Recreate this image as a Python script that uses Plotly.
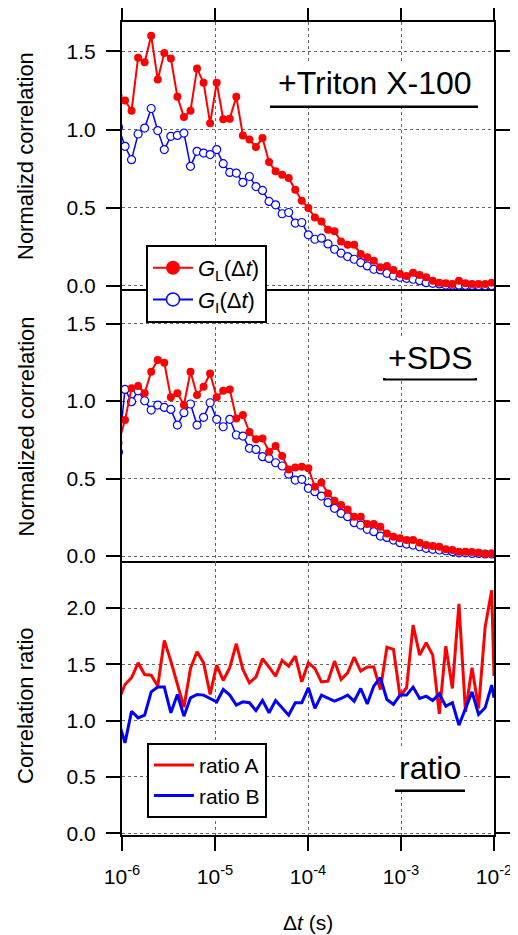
import numpy as np
import plotly.graph_objects as go

# ---------------- data ----------------
# lag-time grid (s); the first point lies just left of 1e-6 and is clipped by the axis
lag_s = np.logspace(-6.038, -2.025, 58)
ratio_lag_s = np.append(lag_s, 1e-2)

# +Triton X-100
triton_GL = [1.216, 1.186, 1.12, 1.46, 1.43, 1.60, 1.32, 1.49, 1.455, 1.21, 1.08,
             1.12, 1.39, 1.30, 1.04, 1.30, 1.066, 1.07, 1.21, 0.963, 0.936,
             0.889, 0.947, 0.793, 0.733, 0.711, 0.69, 0.615, 0.545, 0.498, 0.438,
             0.412, 0.359, 0.35, 0.284, 0.263, 0.263, 0.205, 0.184, 0.162, 0.12,
             0.128, 0.103, 0.077, 0.064, 0.085, 0.07, 0.056, 0.034, 0.021, 0.017,
             0.013, 0.034, 0.017, 0.013, 0.013, 0.013, 0.021]
triton_GI = [1.015, 0.893, 0.808, 0.972, 1.01, 1.135, 0.994, 0.872, 0.957, 0.963, 0.978,
             0.765, 0.861, 0.85, 0.84, 0.872, 0.782, 0.726, 0.722, 0.662, 0.70,
             0.636, 0.611, 0.541, 0.519, 0.462, 0.47, 0.402, 0.406, 0.327, 0.299,
             0.306, 0.269, 0.235, 0.21, 0.188, 0.171, 0.15, 0.128, 0.107, 0.103,
             0.081, 0.064, 0.056, 0.049, 0.043, 0.034, 0.021, 0.017, 0.013, 0.006,
             0.006, 0.005, 0.004, 0.004, 0.003, 0.003, 0.003]

# +SDS
sds_GL = [0.73, 0.877, 1.082, 1.097, 1.05, 1.189, 1.265, 1.247, 1.024, 1.05, 0.974,
          1.189, 1.039, 1.092, 1.178, 1.024, 1.066, 1.075, 0.888, 0.91, 0.80,
          0.753, 0.759, 0.673, 0.71, 0.645, 0.559, 0.572, 0.576, 0.566, 0.447,
          0.475, 0.404, 0.357, 0.329, 0.301, 0.254, 0.254, 0.206, 0.206, 0.189,
          0.146, 0.125, 0.114, 0.103, 0.103, 0.086, 0.071, 0.064, 0.06, 0.043,
          0.039, 0.028, 0.028, 0.026, 0.021, 0.013, 0.017]
sds_GI = [0.67, 1.075, 0.996, 1.066, 1.002, 0.942, 0.974, 0.959, 0.946, 0.845, 0.925,
          0.981, 0.845, 0.895, 0.989, 0.882, 0.834, 0.882, 0.781, 0.774, 0.695,
          0.688, 0.641, 0.63, 0.602, 0.581, 0.529, 0.49, 0.495, 0.437, 0.415,
          0.387, 0.344, 0.308, 0.275, 0.254, 0.215, 0.2, 0.172, 0.157, 0.129,
          0.12, 0.103, 0.086, 0.077, 0.071, 0.06, 0.05, 0.043, 0.039, 0.034,
          0.028, 0.021, 0.021, 0.017, 0.017, 0.013, 0.013]

# correlation ratios
ratio_A = [1.18, 1.321, 1.381, 1.514, 1.41, 1.404, 1.307, 1.713, 1.529, 1.321,
           1.12, 1.464, 1.612, 1.514, 1.233, 1.493, 1.357, 1.47, 1.683, 1.455,
           1.336, 1.387, 1.55, 1.476, 1.396, 1.535, 1.484, 1.573, 1.345, 1.514,
           1.464, 1.345, 1.351, 1.529, 1.366, 1.425, 1.564, 1.44, 1.476, 1.476,
           1.277, 1.653, 1.633, 1.218, 1.292, 1.849, 1.582, 1.692, 1.582, 1.06,
           1.662, 1.286, 2.038, 1.08, 1.47, 1.11, 1.831, 2.157, 1.396]
ratio_B = [0.996, 0.803, 1.084, 1.025, 1.049, 1.256, 1.298, 1.298, 1.07, 1.233,
           1.04, 1.203, 1.233, 1.227, 1.197, 1.167, 1.277, 1.227, 1.138, 1.167,
           1.159, 1.09, 1.179, 1.07, 1.179, 1.114, 1.049, 1.159, 1.159, 1.292,
           1.11, 1.227, 1.197, 1.173, 1.197, 1.227, 1.173, 1.286, 1.149, 1.307,
           1.381, 1.188, 1.144, 1.227, 1.227, 1.298, 1.197, 1.218, 1.179, 1.238,
           1.129, 1.159, 0.96, 1.1, 1.256, 1.055, 1.114, 1.316, 1.203]

x_tickvals = [1e-6, 1e-5, 1e-4, 1e-3, 1e-2]
x_ticktext = ["10<sup>-6</sup>", "10<sup>-5</sup>", "10<sup>-4</sup>",
              "10<sup>-3</sup>", "10<sup>-2</sup>"]

# ---------------- styling ----------------
FONT = "Liberation Sans, Arial, sans-serif"
RED = "#ff0000"
BLUE = "#0000ff"
GRID = "#666666"

GL_NAME = "<i>G</i><sub>L</sub>(Δ<i>t</i>)"
GI_NAME = "<i>G</i><sub>I</sub>(Δ<i>t</i>)"

fig = go.Figure()

# top panel (Triton) : x3 / y3
fig.add_trace(go.Scatter(x=lag_s, y=triton_GI, xaxis="x3", yaxis="y3",
                         mode="lines+markers", showlegend=False,
                         line=dict(color=BLUE, width=1.5),
                         marker=dict(symbol="circle", size=8, color="white",
                                     line=dict(color=BLUE, width=1.2))))
fig.add_trace(go.Scatter(x=lag_s, y=triton_GL, xaxis="x3", yaxis="y3",
                         mode="lines+markers", showlegend=False,
                         line=dict(color=RED, width=2),
                         marker=dict(symbol="circle", size=8, color=RED)))
# legend-only entries (larger symbols, as in the reference key)
fig.add_trace(go.Scatter(x=[None], y=[None], xaxis="x3", yaxis="y3",
                         mode="lines+markers", name=GL_NAME, legend="legend",
                         legendrank=1, line=dict(color=RED, width=2),
                         marker=dict(symbol="circle", size=14, color=RED)))
fig.add_trace(go.Scatter(x=[None], y=[None], xaxis="x3", yaxis="y3",
                         mode="lines+markers", name=GI_NAME, legend="legend",
                         legendrank=2, line=dict(color=BLUE, width=2),
                         marker=dict(symbol="circle", size=13, color="white",
                                     line=dict(color=BLUE, width=1.5))))
# middle panel (SDS) : x2 / y2
fig.add_trace(go.Scatter(x=lag_s, y=sds_GI, xaxis="x2", yaxis="y2",
                         mode="lines+markers", showlegend=False,
                         line=dict(color=BLUE, width=1.5),
                         marker=dict(symbol="circle", size=8, color="white",
                                     line=dict(color=BLUE, width=1.2))))
fig.add_trace(go.Scatter(x=lag_s, y=sds_GL, xaxis="x2", yaxis="y2",
                         mode="lines+markers", showlegend=False,
                         line=dict(color=RED, width=2),
                         marker=dict(symbol="circle", size=8, color=RED)))
# bottom panel (ratio) : x / y
fig.add_trace(go.Scatter(x=ratio_lag_s, y=ratio_A, xaxis="x", yaxis="y",
                         mode="lines", name="ratio A",
                         line=dict(color=RED, width=3), legend="legend2"))
fig.add_trace(go.Scatter(x=ratio_lag_s, y=ratio_B, xaxis="x", yaxis="y",
                         mode="lines", name="ratio B",
                         line=dict(color=BLUE, width=3), legend="legend2"))

# ---------------- axes ----------------
b1 = 0.33456
b2 = 0.66913

common_x = dict(type="log", range=[-6, -2], showline=True, linecolor="black",
                linewidth=2, showgrid=True, gridcolor=GRID, automargin=False,
                griddash="3px,3px", gridwidth=1, tickvals=x_tickvals,
                ticktext=x_ticktext, zeroline=False, tickcolor="black",
                tickwidth=2, ticklen=14,
                tickfont=dict(family=FONT, size=21, color="black"))
common_y = dict(showline=True, linecolor="black", linewidth=2, mirror="ticks",
                ticks="outside", ticklen=14, tickwidth=2, tickcolor="black",
                showgrid=True, gridcolor=GRID, griddash="3px,3px", gridwidth=1,
                zeroline=False, tickformat=".1f", ticklabelstandoff=6,
                automargin=False,
                tickfont=dict(family=FONT, size=21, color="black"))

fig.update_layout(
    # bottom panel: ticks + labels at bottom, mirrored line on top
    xaxis=dict(common_x, domain=[0, 1], anchor="y", ticks="outside",
               mirror=True, showticklabels=True, ticklabelstandoff=8),
    # middle panel: only its top boundary line
    xaxis2=dict(common_x, domain=[0, 1], anchor="y2", side="top", ticks="",
                mirror=False, showticklabels=False),
    # top panel: top line with outward ticks
    xaxis3=dict(common_x, domain=[0, 1], anchor="y3", side="top",
                ticks="outside", mirror=False, showticklabels=False),
    yaxis=dict(common_y, domain=[0, b1], anchor="x", range=[-0.015, 2.40],
               tickvals=[0, 0.5, 1.0, 1.5, 2.0]),
    yaxis2=dict(common_y, domain=[b1, b2], anchor="x2", range=[-0.045, 1.71],
                tickvals=[0, 0.5, 1.0, 1.5]),
    yaxis3=dict(common_y, domain=[b2, 1], anchor="x3", range=[-0.032, 1.688],
                tickvals=[0, 0.5, 1.0, 1.5]),
)

# ---------------- legends ----------------
fig.update_layout(
    legend=dict(x=0.0645, y=0.7257, xanchor="left", yanchor="top",
                bgcolor="white", bordercolor="black", borderwidth=2,
                font=dict(family=FONT, size=22, color="black"),
                itemwidth=40, tracegroupgap=0),
    legend2=dict(x=0.067, y=0.1132, xanchor="left", yanchor="top",
                 bgcolor="white", bordercolor="black", borderwidth=2,
                 font=dict(family=FONT, size=21, color="black"),
                 itemwidth=40),
)

# ---------------- labels ----------------
ann = []
ytitle_x = -0.2594
for text, yc in [("Normalizd correlation", (b2 + 1) / 2),
                 ("Normalized correlation", (b1 + b2) / 2),
                 ("Correlation ratio", b1 / 2 - 0.008)]:
    ann.append(dict(text=text, xref="paper", yref="paper", x=ytitle_x, y=yc,
                    xanchor="center", yanchor="middle", textangle=-90,
                    showarrow=False, font=dict(family=FONT, size=22, color="black")))
ann.append(dict(text="Δ<i>t</i> (s)", xref="paper", yref="paper", x=0.5, y=-0.108,
                xanchor="center", yanchor="middle", showarrow=False,
                font=dict(family=FONT, size=21, color="black")))

panel_labels = [("+Triton X-100", 0.6793, 0.9244, 0.3978, 0.957, 0.8958),
                ("+SDS", 0.828, 0.5871, 0.7016, 0.9543, 0.5605),
                ("ratio", 0.8274, 0.0818, 0.7339, 0.922, 0.0545)]
shapes = []
for text, xc, yc, ux0, ux1, uy in panel_labels:
    ann.append(dict(text=text, xref="paper", yref="paper", x=xc, y=yc,
                    xanchor="center", yanchor="middle", showarrow=False,
                    bgcolor="white", borderpad=2,
                    font=dict(family=FONT, size=32, color="black")))
    shapes.append(dict(type="line", xref="paper", yref="paper", x0=ux0, x1=ux1,
                       y0=uy, y1=uy, line=dict(color="black", width=2.5),
                       layer="above"))

# the page body adds an 8 px offset, so the figure is 8 px smaller each way
fig.update_layout(
    annotations=ann, shapes=shapes,
    width=510, height=927,
    margin=dict(l=114, r=24, t=14, b=100, autoexpand=False),
    paper_bgcolor="white", plot_bgcolor="white",
    font=dict(family=FONT, color="black"),
)

fig.write_html("out.html")
